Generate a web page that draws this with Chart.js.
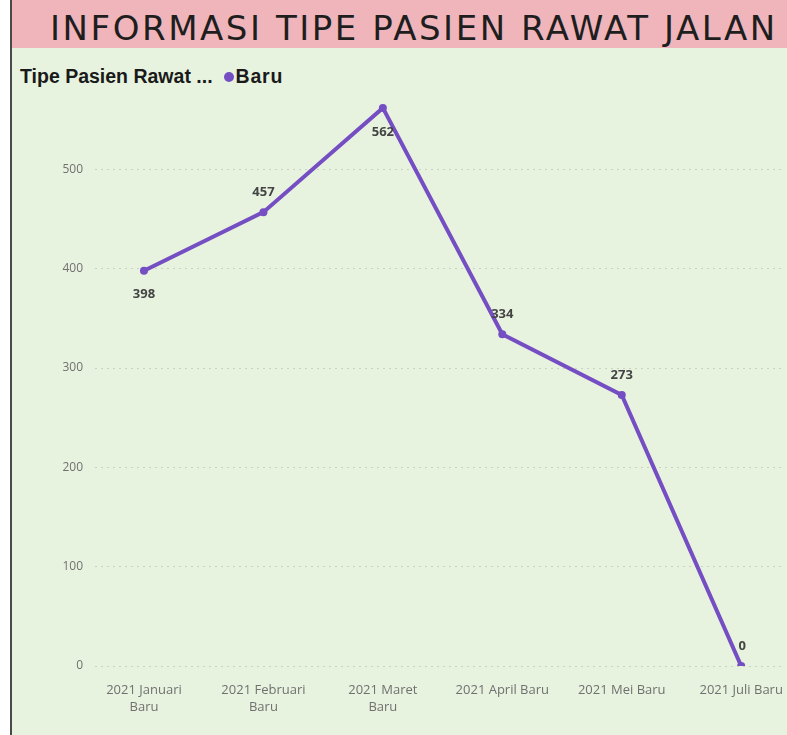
<!DOCTYPE html>
<html>
<head>
<meta charset="utf-8">
<script src="https://cdn.jsdelivr.net/npm/chart.js@4/dist/chart.umd.min.js"></script>
<style>
  html, body { margin: 0; padding: 0; background: #ffffff; }
  #page { position: relative; width: 787px; height: 735px; overflow: hidden; background: #ffffff; }
  #border { position: absolute; left: 10px; top: 0; width: 2px; height: 735px; background: #4a4a4a; }
  #panel { position: absolute; left: 12px; top: 0; width: 775px; height: 735px; background: #e7f3df; }
  #header { position: absolute; left: 12px; top: 0; width: 775px; height: 48px; background: #f0b5ba; overflow: hidden; }
  #title { position: absolute; left: 38px; top: 3px; font-family: "DejaVu Sans", "Liberation Sans", sans-serif;
           font-size: 34px; color: #1e1e1e; line-height: 50px; letter-spacing: 2.55px; white-space: nowrap; }
  #legend { position: absolute; left: 20px; top: 65px; font-family: "Liberation Sans", Arial, sans-serif;
            font-weight: bold; font-size: 19.5px; line-height: 22px; color: #1a1a1a; white-space: nowrap; }
  #legend .dot { display: inline-block; width: 10px; height: 10px; border-radius: 50%; background: #744EC2;
                 margin-left: 11px; margin-right: 2px; vertical-align: 1px; }
  #legend .ser { letter-spacing: 0.8px; }
  #wrap { position: absolute; left: 12px; top: 48px; width: 775px; height: 687px; }
</style>
</head>
<body>
<div id="page">
  <div id="panel"></div>
  <div id="border"></div>
  <div id="header"><div id="title">INFORMASI TIPE PASIEN RAWAT JALAN</div></div>
  <div id="legend">Tipe Pasien Rawat ...<span class="dot"></span><span class="ser">Baru</span></div>
  <div id="wrap"><canvas id="c" width="775" height="687"></canvas></div>
</div>
<script>
// ---- data ----
const categories = ["2021 Januari Baru", "2021 Februari Baru", "2021 Maret Baru", "2021 April Baru", "2021 Mei Baru", "2021 Juli Baru"];
const tickLabels = [["2021 Januari", "Baru"], ["2021 Februari", "Baru"], ["2021 Maret", "Baru"], ["2021 April Baru"], ["2021 Mei Baru"], ["2021 Juli Baru"]];
const baruValues = [398, 457, 562, 334, 273, 0];
const yTicks = [0, 100, 200, 300, 400, 500];
const labelPlacement = ["below", "above", "below", "above", "above", "above"];
const seriesName = "Baru";

const points = baruValues.map((v, i) => ({ x: i, y: v }));

const dataLabels = {
  id: 'dataLabels',
  afterDatasetsDraw(chart) {
    const ctx = chart.ctx;
    const meta = chart.getDatasetMeta(0);
    ctx.save();
    ctx.font = 'bold 13px "Open Sans", "DejaVu Sans", sans-serif';
    ctx.fillStyle = '#444444';
    ctx.textAlign = 'center';
    ctx.textBaseline = 'middle';
    meta.data.forEach((pt, i) => {
      const dy = labelPlacement[i] === 'below' ? 24 : -20;
      const dx = i === baruValues.length - 1 ? 1 : 0;
      ctx.fillText(String(baruValues[i]), pt.x + dx, pt.y + dy);
    });
    ctx.restore();
  }
};

new Chart(document.getElementById('c'), {
  type: 'line',
  data: {
    datasets: [{
      label: seriesName,
      data: points,
      borderColor: '#744EC2',
      backgroundColor: '#744EC2',
      borderWidth: 4,
      pointRadius: 4,
      pointHoverRadius: 4,
      pointBorderWidth: 0,
      tension: 0,
      fill: false
    }]
  },
  options: {
    responsive: false,
    animation: false,
    layout: { padding: { top: 42, right: 0, bottom: 0, left: 0 } },
    plugins: { legend: { display: false }, tooltip: { enabled: false } },
    scales: {
      x: {
        type: 'linear',
        min: -0.41,
        max: 5.35,
        afterBuildTicks(scale) {
          scale.ticks = categories.map((c, i) => ({ value: i }));
        },
        afterFit(scale) { scale.height = 69; scale.paddingLeft = 0; scale.paddingRight = 0; },
        grid: { display: false, drawTicks: false },
        border: { display: false },
        ticks: {
          autoSkip: false,
          maxRotation: 0,
          padding: 16,
          color: '#707070',
          font: { family: '"Open Sans", "DejaVu Sans", sans-serif', size: 13, lineHeight: 1.3 },
          callback: (v) => tickLabels[v] || ''
        }
      },
      y: {
        min: 0,
        max: 580,
        afterBuildTicks(scale) {
          scale.ticks = yTicks.map(v => ({ value: v }));
        },
        afterFit(scale) { scale.width = 83; },
        grid: { color: '#c9d3c2', lineWidth: 1, drawTicks: false },
        border: { display: false, dash: [2, 4] },
        ticks: {
          padding: 12,
          color: '#707070',
          font: { family: '"Open Sans", "DejaVu Sans", sans-serif', size: 12 }
        }
      }
    }
  },
  plugins: [dataLabels]
});
</script>
</body>
</html>
